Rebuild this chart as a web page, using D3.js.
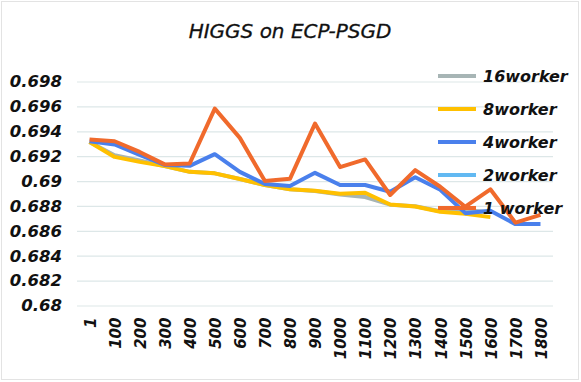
<!DOCTYPE html>
<html>
<head>
<meta charset="utf-8">
<script src="https://cdn.jsdelivr.net/npm/d3@7"></script>
<style>
    body { margin: 0; background: #fff; }
</style>
</head>
<body>
<script>
// x categories (iterations)
const categories = ["1", "100", "200", "300", "400", "500", "600", "700", "800", "900",
    "1000", "1100", "1200", "1300", "1400", "1500", "1600", "1700", "1800"];

// y ticks
const yTicks = [0.68, 0.682, 0.684, 0.686, 0.688, 0.69, 0.692, 0.694, 0.696, 0.698];

// series values
const worker16 = [0.69314, 0.69208, 0.69165, 0.6912, 0.69074, 0.69062, 0.69016, 0.68968, 0.68934, 0.6892,
    0.68892, 0.68872, 0.6881, 0.68798, 0.68758, 0.68768, 0.6875];
const worker8 = [0.69314, 0.69194, 0.69154, 0.6912, 0.69074, 0.69062, 0.69016, 0.68968, 0.68934, 0.68922,
    0.68898, 0.68906, 0.68812, 0.68795, 0.68754, 0.68738, 0.6871];
const worker4 = [0.6932, 0.69294, 0.6921, 0.6913, 0.69122, 0.69216, 0.69074, 0.68976, 0.6896, 0.69066,
    0.68968, 0.68968, 0.68914, 0.6903, 0.6893, 0.68742, 0.68762, 0.68654, 0.68654];
const worker2 = [];
const worker1 = [0.69334, 0.6932, 0.69234, 0.69134, 0.69142, 0.69582, 0.69347, 0.69, 0.69018, 0.69462,
    0.69112, 0.69174, 0.68888, 0.69088, 0.68954, 0.68794, 0.68934, 0.68666, 0.68728];

const seriesNames = ["16worker", "8worker", "4worker", "2worker", "1 worker"];
const seriesValues = [worker16, worker8, worker4, worker2, worker1];
const seriesColors = ["#a7b5b5", "#ffc000", "#4a80ec", "#62b9f2", "#f06a2c"];

const width = 581;
const height = 382;
const font = "'DejaVu Sans', sans-serif";

const svg = d3.select("body")
    .append("svg")
    .attr("width", width)
    .attr("height", height);

// chart border
svg.append("rect")
    .attr("x", 1.5)
    .attr("y", 1.5)
    .attr("width", 577)
    .attr("height", 378)
    .attr("fill", "#fff")
    .attr("stroke", "#e3e3e3");

const x = d3.scaleBand()
    .domain(categories)
    .range([77, 553]);

const y = d3.scaleLinear()
    .domain([0.68, 0.698])
    .range([305.5, 81.5]);

// title
svg.append("text")
    .attr("x", 290)
    .attr("y", 38)
    .attr("text-anchor", "middle")
    .style("font-family", font)
    .style("font-style", "italic")
    .style("font-size", "20px")
    .style("stroke", "#111")
    .style("stroke-width", 0.3)
    .attr("fill", "#111")
    .text("HIGGS on ECP-PSGD");

// y axis: gridlines and labels
const yAxis = svg.append("g")
    .attr("transform", "translate(77,0)")
    .call(d3.axisLeft(y)
        .tickValues(yTicks)
        .tickSize(-(553 - 77))
        .tickPadding(15)
        .tickFormat(d3.format("")));
yAxis.select(".domain").remove();
yAxis.selectAll(".tick line")
    .attr("stroke", "#dde7e8")
    .attr("stroke-width", 1.2);
yAxis.selectAll(".tick text")
    .style("font-family", font)
    .style("font-weight", "bold")
    .style("font-style", "italic")
    .style("font-size", "16.5px")
    .attr("fill", "#111");

// x axis labels (rotated)
const xAxis = svg.append("g")
    .attr("transform", "translate(0,305.5)")
    .call(d3.axisBottom(x).tickSize(0).tickPadding(0));
xAxis.select(".domain").remove();
xAxis.selectAll(".tick text")
    .attr("transform", "translate(1,12) rotate(-90)")
    .attr("x", 0)
    .attr("y", 0)
    .attr("dy", "0.35em")
    .attr("text-anchor", "end")
    .style("font-family", font)
    .style("font-weight", "bold")
    .style("font-style", "italic")
    .style("font-size", "15px")
    .attr("fill", "#111");

// series lines
const line = d3.line()
    .x((d, i) => x(categories[i]) + x.bandwidth() / 2)
    .y(d => y(d));

svg.append("g")
    .selectAll("path")
    .data(seriesValues)
    .join("path")
    .attr("d", d => d.length ? line(d) : null)
    .attr("fill", "none")
    .attr("stroke", (d, i) => seriesColors[i])
    .attr("stroke-width", 4)
    .attr("stroke-linejoin", "round");

// legend
const legend = svg.append("g")
    .selectAll("g")
    .data(seriesNames)
    .join("g")
    .attr("transform", (d, i) => `translate(438,${76 + i * 33})`);
legend.append("line")
    .attr("x1", 0)
    .attr("x2", 38)
    .attr("stroke", (d, i) => seriesColors[i])
    .attr("stroke-width", 4);
legend.append("text")
    .attr("x", 45)
    .attr("dy", "0.35em")
    .style("font-family", font)
    .style("font-weight", "bold")
    .style("font-style", "italic")
    .style("font-size", "16px")
    .attr("fill", "#111")
    .text(d => d);
</script>
</body>
</html>
